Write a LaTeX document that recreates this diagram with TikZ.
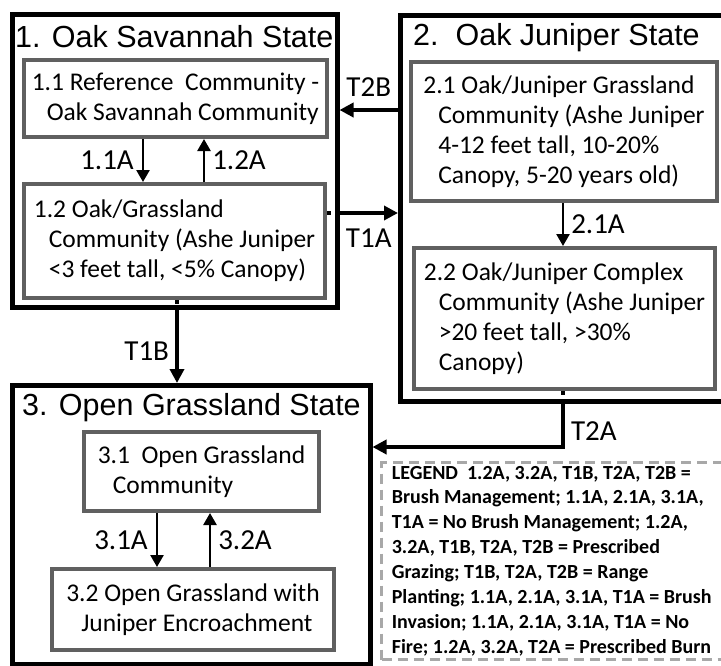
\documentclass[tikz,border=0pt]{standalone}
\usepackage{fontspec}
\setmainfont{Carlito}
\newfontfamily\titlefont{Liberation Sans}
\usetikzlibrary{arrows.meta}
\definecolor{boxgray}{RGB}{96,96,96}
\definecolor{leggray}{RGB}{168,168,168}
\newcommand{\ind}{\hspace*{15pt}}
\tikzset{
  statebox/.style={draw=black,line width=4.5pt,anchor=north west,inner sep=0pt},
  commbox/.style={draw=boxgray,line width=4pt,fill=white,anchor=north west,inner sep=4pt,align=left,font=\fontsize{25.5}{30}\selectfont},
  statetitle/.style={anchor=west,inner sep=0pt,font=\titlefont\fontsize{30.5}{34}\selectfont},
  lbl/.style={font=\fontsize{29}{30}\selectfont,inner sep=2pt},
  trans/.style={line width=4pt,-{Triangle[length=14pt,width=14pt]}},
  stepline/.style={line width=2.5pt,-{Triangle[length=12pt,width=13pt]}},
  dotpart/.style={line width=4pt,dash pattern=on 4pt off 4pt}
}
\begin{document}
\begin{tikzpicture}[x=1pt,y=-1pt]
\useasboundingbox (0,0) rectangle (721,665);

% states
\node[statebox,minimum width=325,minimum height=293] (s1) at (10,12) {};
\node[statebox,minimum width=342,minimum height=386] (s2) at (398,13) {};
\node[statebox,minimum width=358,minimum height=279] (s3) at (10,383) {};
\node[statetitle] (t1) at (15,37) {1. Oak Savannah State};
\node[statetitle] (t2) at (413,38) {2.\ \ Oak Juniper State};
\node[statetitle] (t3) at (22,408) {3. Open Grassland State};

% communities
\node[commbox,minimum width=303,minimum height=77] (c11) at (22,58)
  {1.1 Reference\ \ Community -\\ \ind Oak Savannah Community};
\node[commbox,minimum width=301,minimum height=114] (c12) at (22,182)
  {1.2 Oak/Grassland\\ \ind Community (Ashe Juniper\\ \ind <3 feet tall, <5\% Canopy)};
\node[commbox,minimum width=306,minimum height=139] (c21) at (409,60)
  {2.1 Oak/Juniper Grassland\\ \ind Community (Ashe Juniper\\ \ind 4-12 feet tall, 10-20\%\\ \ind Canopy, 5-20 years old)};
\node[commbox,minimum width=301,minimum height=141] (c22) at (412,246)
  {2.2 Oak/Juniper Complex\\ \ind Community (Ashe Juniper\\ \ind >20 feet tall, >30\%\\ \ind Canopy)};
\node[commbox,minimum width=235,minimum height=79] (c31) at (82,430)
  {3.1\ \ Open Grassland\\ \ind Community};
\node[commbox,minimum width=282,minimum height=81] (c32) at (50,567)
  {3.2 Open Grassland with\\ \ind Juniper Encroachment};

% legend
\node[draw=leggray,line width=3pt,dash pattern=on 10pt off 6pt,anchor=north west,
  minimum width=360,minimum height=197,inner xsep=6pt,inner ysep=0pt,align=left,
  font=\bfseries\fontsize{20}{24.9}\selectfont] (leg) at (380,461)
  {LEGEND\ \ 1.2A, 3.2A, T1B, T2A, T2B =\\
   Brush Management; 1.1A, 2.1A, 3.1A,\\
   T1A = No Brush Management; 1.2A,\\
   3.2A, T1B, T2A, T2B = Prescribed\\
   Grazing; T1B, T2A, T2B = Range\\
   Planting; 1.1A, 2.1A, 3.1A, T1A = Brush\\
   Invasion; 1.1A, 2.1A, 3.1A, T1A = No\\
   Fire; 1.2A, 3.2A, T2A = Prescribed Burn\hspace*{20pt}};

% line positions
\coordinate (a11) at (143,0);
\coordinate (a12) at (204,0);
\coordinate (a21) at (563,0);
\coordinate (a31) at (157,0);
\coordinate (a32) at (210,0);
\coordinate (t1b) at (177,0);
\coordinate (t1a) at (0,213);
\coordinate (t2b) at (0,110);
\coordinate (t2a) at (0,447);

% steps inside states
\draw[stepline] (c11.south -| a11) -- node[lbl,left=6pt] (l11) {1.1A} (c12.north -| a11);
\draw[stepline] (c12.north -| a12) -- node[lbl,right=5pt] (l12) {1.2A} (c11.south -| a12);
\draw[stepline] (c21.south -| a21) -- node[lbl,right=5pt] (l21) {2.1A} (c22.north -| a21);
\draw[stepline] (c31.south -| a31) -- node[lbl,left=6pt] (l31) {3.1A} (c32.north -| a31);
\draw[stepline] (c32.north -| a32) -- node[lbl,right=5pt] (l32) {3.2A} (c31.south -| a32);

% transitions
\draw[trans] (s2.west |- t2b) -- node[lbl,above=10pt] (lt2b) {T2B} (s1.east |- t2b);
\draw[dotpart] (c12.east |- t1a) -- (s1.east |- t1a);
\draw[trans] (s1.east |- t1a) -- node[lbl,below=12pt] (lt1a) {T1A} (s2.west |- t1a);
\draw[dotpart] (c12.south -| t1b) -- (s1.south -| t1b);
\draw[trans] (s1.south -| t1b) -- node[lbl,left=4pt,yshift=-5pt] (lt1b) {T1B} (s3.north -| t1b);
\draw[dotpart] (c22.south -| a21) -- (s2.south -| a21);
\draw[trans] (s2.south -| a21) |- node[lbl,pos=0.32,right=4pt] (lt2a) {T2A} (s3.east |- t2a);
\end{tikzpicture}
\end{document}
